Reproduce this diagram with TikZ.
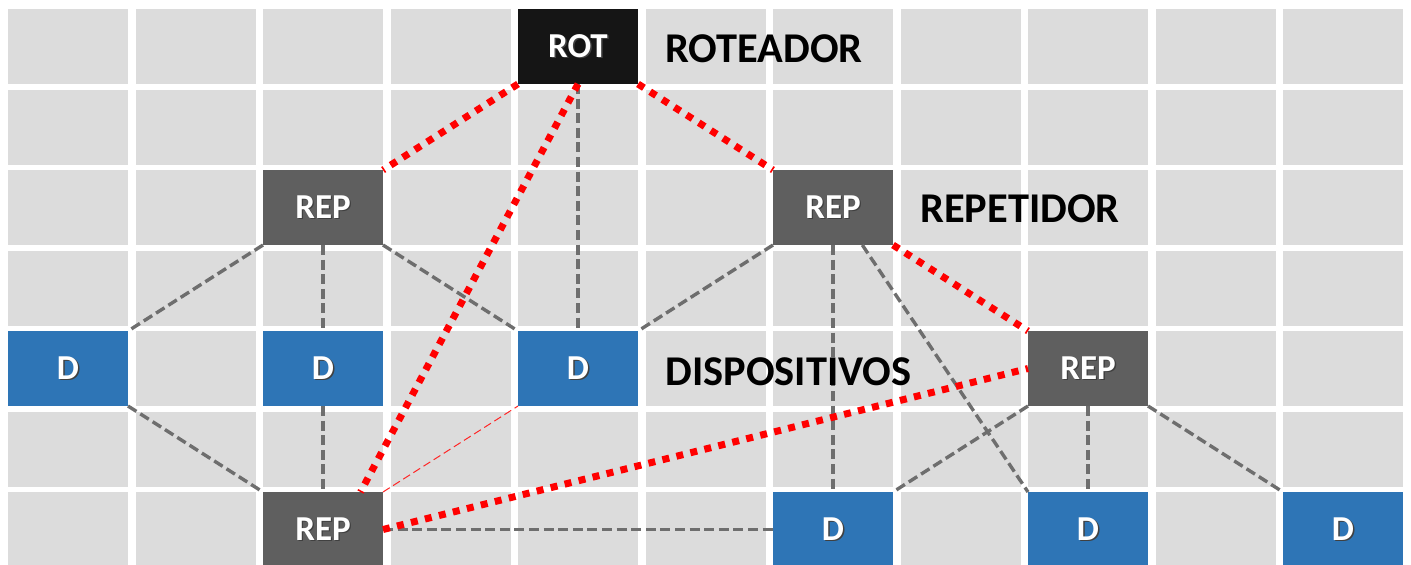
\documentclass[tikz,border=0pt]{standalone}
\usepackage{fontspec}
\setmainfont{Carlito}
\usepackage{tikz}
\usetikzlibrary{calc}
\usetikzlibrary{positioning}

\definecolor{cellgray}{HTML}{DCDCDC}
\definecolor{rotblack}{HTML}{151515}
\definecolor{repgray}{HTML}{5F5F5F}
\definecolor{devblue}{HTML}{2E75B6}
\definecolor{linkgray}{HTML}{6E6E6E}

\newcommand\shtxt[1]{\makebox[0pt][l]{\hspace{0.7pt}\raisebox{-0.7pt}{\color{black!75}#1}}#1}

\begin{document}
\begin{tikzpicture}[
  x = 0.5pt, y = -0.5pt,
  cell/.style = {fill=cellgray,minimum width=60pt,minimum height=37.5pt,inner sep=0pt,outer sep=0pt},
  box/.style = {cell,text=white,font=\fontsize{17.5}{20}\selectfont\bfseries},
  router/.style = {box,fill=rotblack},
  repeater/.style = {box,fill=repgray},
  device/.style = {box,fill=devblue},
  tag/.style = {anchor=west,inner sep=0pt,font=\fontsize{21.2}{24}\selectfont\bfseries},
  link/.style = {draw=linkgray,line width=1.7pt,dash pattern=on 5pt off 2.3pt},
  mesh/.style = {draw=red,line width=3.5pt,dash pattern=on 3.5pt off 3.7pt},
  weak/.style = {draw=red!85,line width=0.5pt,dash pattern=on 4pt off 2pt}
  ]
  \useasboundingbox (0,0) rectangle (1411,564);

  % grid
  \foreach \i in {0,...,10}
    \foreach \j in {0,...,6}
      \node[cell] (c-\i-\j) at ({68+127.5*\i},{46.5+80.5*\j}) {};

  \node[router] (rot) at (c-4-0) {\shtxt{ROT}};
  \node[repeater] (rep1) at (c-2-2) {\shtxt{REP}};
  \node[repeater] (rep2) at (c-6-2) {\shtxt{REP}};
  \node[repeater] (rep3) at (c-8-4) {\shtxt{REP}};
  \node[repeater] (rep4) at (c-2-6) {\shtxt{REP}};
  \node[device] (d1) at (c-0-4) {\shtxt{D}};
  \node[device] (d2) at (c-2-4) {\shtxt{D}};
  \node[device] (d3) at (c-4-4) {\shtxt{D}};
  \node[device] (d4) at (c-6-6) {\shtxt{D}};
  \node[device] (d5) at (c-8-6) {\shtxt{D}};
  \node[device] (d6) at (c-10-6) {\shtxt{D}};

  % gray links
  \draw[link] (rot.south) -- (d3.north);
  \draw[link] (rep1.south west) -- (d1.north east);
  \draw[link] (rep1.south) -- (d2.north);
  \draw[link] (rep1.south east) -- (d3.north west);
  \draw[link] (d1.south east) -- (rep4.north west);
  \draw[link] (d2.south) -- (rep4.north);
  \draw[link] (rep4.east) -- (d4.west);
  \draw[link] (rep2.south west) -- (d3.north east);
  \draw[link] (rep2.south) -- (d4.north);
  \draw[link] (rep2.-52) -- (d5.north west);
  \draw[link] (rep3.south west) -- (d4.north east);
  \draw[link] (rep3.south) -- (d5.north);
  \draw[link] (rep3.south east) -- (d6.north west);

  % red links
  \draw[weak] (rep4.north east) -- (d3.south west);
  \draw[mesh] (rot.south west) -- (rep1.north east);
  \draw[mesh] (rot.south east) -- (rep2.north west);
  \draw[mesh] (rot.south) -- (rep4.45);
  \draw[mesh] (rep2.south east) -- (rep3.north west);
  \draw[mesh] (rep4.east) -- (rep3.west);

  \node[tag] (lrot) at (665,48.5) {ROTEADOR};
  \node[tag] (lrep) at (920,208.5) {REPETIDOR};
  \node[tag] (ldev) at (665,371.5) {DISPOSITIVOS};
\end{tikzpicture}
\end{document}
